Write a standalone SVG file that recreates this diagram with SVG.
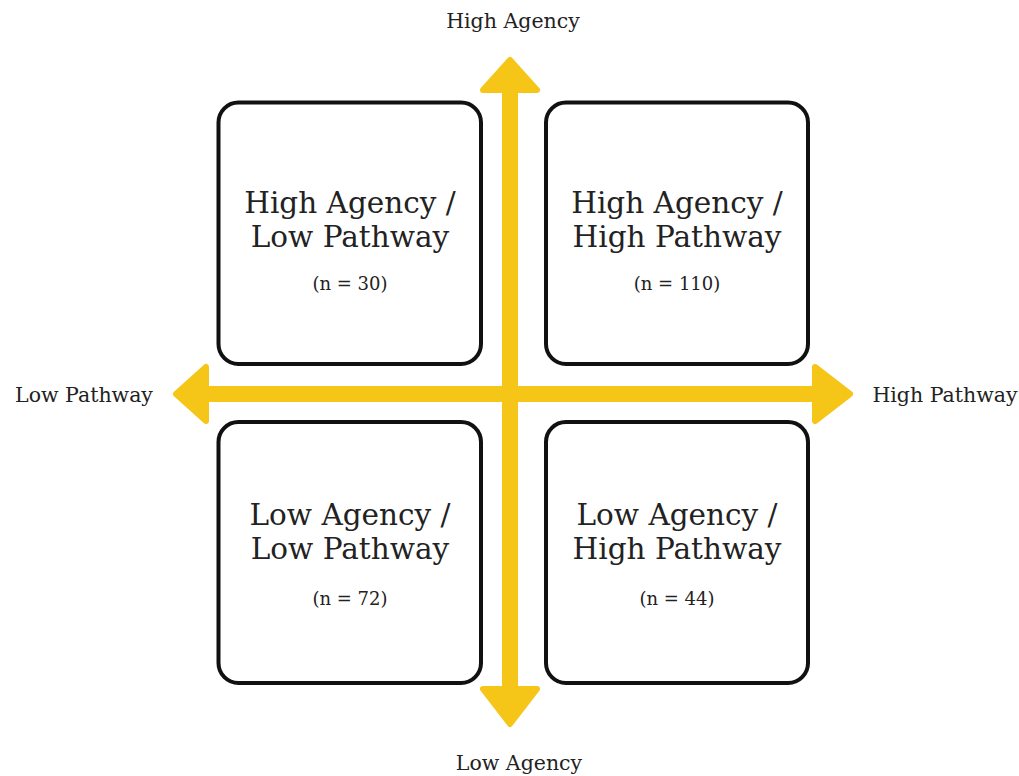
<svg xmlns="http://www.w3.org/2000/svg" width="1019" height="776" viewBox="0 0 1019 776">
  <style>
    .box { fill: #ffffff; stroke: #111111; stroke-width: 4; }
    .axis { fill: #F5C518; stroke: #F5C518; stroke-width: 6; stroke-linejoin: round; }
    .title { font-family: "DejaVu Serif", "Liberation Serif", serif; font-size: 29.5px; fill: #222222; text-anchor: middle; }
    .count { font-family: "DejaVu Serif", "Liberation Serif", serif; font-size: 18px; fill: #222222; text-anchor: middle; }
    .label { font-family: "DejaVu Serif", "Liberation Serif", serif; font-size: 20.5px; fill: #222222; text-anchor: middle; }
  </style>
  <rect width="1019" height="776" fill="#ffffff"/>

  <g id="connectors">
    <path class="axis" d="M176,394 L206,367 L206,389 L815,389 L815,367 L850,394 L815,421 L815,399 L206,399 L206,421 Z"/>
    <path class="axis" d="M510,60 L537,90 L515,90 L515,689 L537,689 L510,724 L483,689 L505,689 L505,90 L483,90 Z"/>
  </g>

  <g id="node-high-agency-low-pathway">
    <rect class="box" x="218.5" y="102.5" width="262.5" height="261.5" rx="20"/>
    <text class="title" x="350" y="213">High Agency /</text>
    <text class="title" x="350" y="247">Low Pathway</text>
    <text class="count" x="350" y="290">(n = 30)</text>
  </g>

  <g id="node-high-agency-high-pathway">
    <rect class="box" x="546" y="102.5" width="262" height="261.5" rx="20"/>
    <text class="title" x="677" y="213">High Agency /</text>
    <text class="title" x="677" y="247">High Pathway</text>
    <text class="count" x="677" y="290">(n = 110)</text>
  </g>

  <g id="node-low-agency-low-pathway">
    <rect class="box" x="218.5" y="422" width="262.5" height="261" rx="20"/>
    <text class="title" x="350" y="525">Low Agency /</text>
    <text class="title" x="350" y="559">Low Pathway</text>
    <text class="count" x="350" y="605">(n = 72)</text>
  </g>

  <g id="node-low-agency-high-pathway">
    <rect class="box" x="546" y="422" width="262" height="261" rx="20"/>
    <text class="title" x="677" y="525">Low Agency /</text>
    <text class="title" x="677" y="559">High Pathway</text>
    <text class="count" x="677" y="605">(n = 44)</text>
  </g>

  <g id="axis-labels">
    <text class="label" x="513" y="28">High Agency</text>
    <text class="label" x="519" y="770">Low Agency</text>
    <text class="label" x="84" y="402">Low Pathway</text>
    <text class="label" x="945" y="402">High Pathway</text>
  </g>
</svg>
